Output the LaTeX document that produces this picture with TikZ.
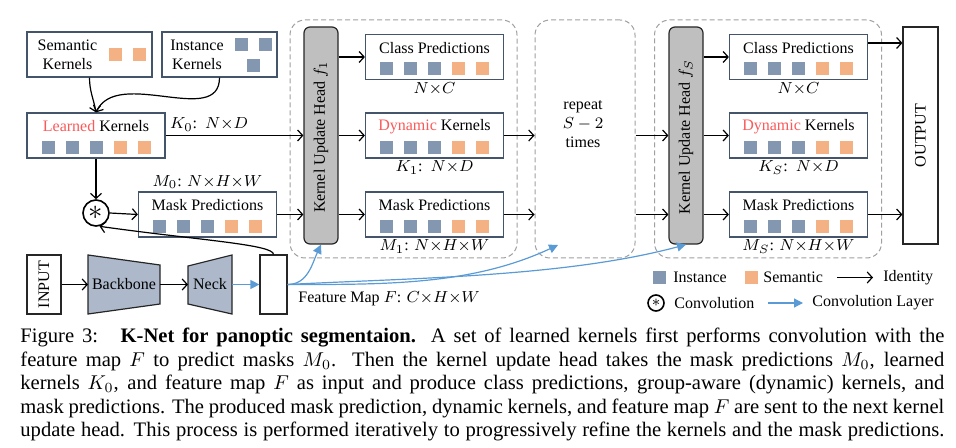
\documentclass[tikz,border=0pt]{standalone}
\usepackage{fontspec}
\setmainfont{Liberation Serif}
\usepackage{tikz}
\usetikzlibrary{calc,arrows.meta}
\definecolor{knInst}{RGB}{132,151,176}
\definecolor{knSem}{RGB}{244,177,131}
\definecolor{knBox}{RGB}{68,84,106}
\definecolor{knRed}{RGB}{250,90,90}
\definecolor{knNeck}{RGB}{173,185,202}
\definecolor{knBlue}{RGB}{91,155,213}
\definecolor{knHead}{RGB}{191,191,191}
\definecolor{knDash}{RGB}{160,160,160}

% five kernel squares at the bottom of a box
\newcommand{\kersq}[1]{%
  \foreach \i/\c in {-2/knInst,-1/knInst,0/knInst,1/knSem,2/knSem}
    \fill[\c] ($(#1.south)+(\i*24-6.5,-5)$) rectangle +(13,-13);}
% one justified caption line
\newcommand{\capline}[1]{\makebox[462pt][s]{\spaceskip=0.25em plus 0.5em minus 0.15em #1}}

\begin{document}
\begin{tikzpicture}[x=0.5pt,y=-0.5pt, font=\footnotesize,
  kbox/.style={draw=knBox, line width=0.6pt, fill=white, minimum width=69pt, minimum height=22.5pt, inner sep=0pt},
  ktxt/.style={inner sep=0pt},
  dimlbl/.style={inner sep=1pt},
  head/.style={draw=black!85, fill=knHead, rounded corners=3pt, line width=0.6pt, minimum width=17pt, minimum height=108.5pt, inner sep=0pt},
  group/.style={draw=knDash, dash pattern=on 2.5pt off 1.5pt, rounded corners=7.5pt, line width=0.5pt, minimum height=119pt, inner sep=0pt},
  wbox/.style={draw=black!85, fill=white, line width=0.6pt, inner sep=0pt},
  trap/.style={draw=black!85, fill=knNeck, line width=0.6pt},
  arr/.style={-{Straight Barb[length=2.5pt,width=5.5pt]}, line width=0.6pt},
  carr/.style={-{Triangle[length=4.5pt,width=4.5pt]}, knBlue, line width=0.6pt},
]
\useasboundingbox (0,0) rectangle (956,448);

% Kernels
\node[kbox, minimum width=62.5pt] (sk) at (89.5,54.5) {};
\node[ktxt, align=center] (skt) at (67.5,55) {Semantic\\Kernels};
\foreach \x in {109,133} \fill[knSem] (\x,48) rectangle +(13,13);
\node[kbox, minimum width=57.5pt] (ik) at (219.5,54.5) {};
\node[ktxt, align=center] (ikt) at (197,55) {Instance\\Kernels};
\foreach \x/\y in {235/38,259/38,247/59} \fill[knInst] (\x,\y) rectangle +(13,13);
\node[kbox] (lk) at (96,135.5) {};
\node[ktxt] (lkt) at ($(lk.north)+(0,14)$) {\textcolor{knRed}{Learned} Kernels};
\kersq{lk}
\node[dimlbl, anchor=south west] (k0) at ($(lk.east)+(2,-2)$) {$K_0$:\, $N{\times}D$};

% Convolution and initial masks
\node[circle, draw, line width=0.8pt, fill=white, minimum size=13pt, inner sep=0pt] (conv) at (96,213) {\Large$\ast$};
\node[kbox] (mp0) at (207.5,214.5) {};
\node[ktxt] (mp0t) at ($(mp0.north)+(0,14)$) {Mask Predictions};
\kersq{mp0}
\node[dimlbl, above] (m0) at (mp0.north) {$M_0$: $N{\times}H{\times}W$};

% Backbone
\node[wbox, minimum width=17pt, minimum height=29.5pt] (inp) at (44,284.5) {};
\node[rotate=90, inner sep=0pt] (inpt) at (inp) {INPUT};
\draw[trap] (88,255) -- (160,265) -- (160,304) -- (88,314) -- cycle;
\node[inner sep=0pt] (bb) at (124,284.5) {Backbone};
\draw[trap] (188,266) -- (232,255) -- (232,314) -- (188,304) -- cycle;
\node[inner sep=0pt] (nk) at (210,284.5) {Neck};
\coordinate (bbW) at (88,284.5);
\coordinate (bbE) at (160,284.5);
\coordinate (nkW) at (188,284.5);
\coordinate (nkE) at (232,284.5);
\node[wbox, minimum width=13.5pt, minimum height=29.5pt] (fm) at (273.5,284.5) {};
\node[anchor=west, inner sep=0pt] (fmt) at (298,299) {Feature Map $F$: $C{\times}H{\times}W$};

% Kernel update stages
\foreach \s/\hx/\bx in {1/321/434.5,S/686/798.5}{
  \node[group, minimum width=113.5pt] (st\s) at ({(\hx+\bx)/2+25.75},139) {};
  \node[head] (kh\s) at (\hx,135.5) {};
  \node[rotate=90, inner sep=0pt] (kht\s) at (\hx,137) {Kernel Update Head $f_{\s}$};
  \node[kbox] (cp\s) at (\bx,57) {};
  \node[kbox] (dk\s) at (\bx,135.5) {};
  \node[kbox] (mp\s) at (\bx,214.5) {};
  \node[ktxt] (cpt\s) at ($(cp\s.north)+(0,14)$) {Class Predictions};
  \node[ktxt] (dkt\s) at ($(dk\s.north)+(0,14)$) {\textcolor{knRed}{Dynamic} Kernels};
  \node[ktxt] (mpt\s) at ($(mp\s.north)+(0,14)$) {Mask Predictions};
  \kersq{cp\s}\kersq{dk\s}\kersq{mp\s}
  \node[dimlbl, below] (nc\s) at (cp\s.south) {$N{\times}C$};
  \node[dimlbl, below] (kd\s) at (dk\s.south) {$K_{\s}$:\, $N{\times}D$};
  \node[dimlbl, below] (mhw\s) at (mp\s.south) {$M_{\s}$: $N{\times}H{\times}W$};
  \foreach \b in {cp,dk,mp}
    \draw[arr] (kh\s.east |- \b\s.west) -- (\b\s.west);
}

% Repeat
\node[group, minimum width=50pt] (rep) at (585,139) {};
\node[align=center, inner sep=0pt] (rept) at (583,124) {repeat\\$S-2$\\times};
\coordinate (repF) at (558,245);

% Output
\node[wbox, minimum width=17.5pt, minimum height=108.5pt] (out) at (920.5,135.5) {};
\node[rotate=90, inner sep=0pt] (outt) at (out) {OUTPUT};

% Connections
\draw[arr] (sk.south) to[out=-90,in=100] (lk.north);
\draw[arr] (ik.south) to[out=-90,in=65] (lk.north);
\draw[arr] (lk.south) -- (conv.north);
\draw[arr] (conv.east) -- (mp0.west);
\draw[arr] (fm.north) to[out=90,in=-8,out distance=5pt,in distance=50pt] (conv.-75);
\draw[arr] (lk.east) -- (lk.east -| kh1.west);
\draw[arr] (mp0.east) -- (mp0.east -| kh1.west);
\draw[arr] (dk1.east) -- (dk1.east -| rep.west);
\draw[arr] (mp1.east) -- (mp1.east -| rep.west);
\draw[arr] (rep.east |- dkS.west) -- (dkS.west -| khS.west);
\draw[arr] (rep.east |- mpS.west) -- (mpS.west -| khS.west);
\draw[arr] ([yshift=7pt]cpS.east) -- ([yshift=7pt]cpS.east -| out.west);
\draw[arr] (mpS.east) -- (mpS.east -| out.west);
\draw[arr] (inp.east) -- (bbW);
\draw[arr] (bbE) -- (nkW);
\draw[carr] (nkE) -- (fm.west);
\draw[carr] (fm.east) to[out=0,in=-115] (kh1.south);
\draw[carr] (fm.east) to[out=0,in=205,looseness=0.9] (repF);
\draw[carr] (fm.east) to[out=3,in=195,looseness=0.8] (khS.south);

% Legend
\node[fill=knInst, minimum size=6.5pt, inner sep=0pt] (lgi) at (659.5,277.5) {};
\node[anchor=west, inner sep=0pt] (lgit) at (673,277.5) {Instance};
\node[fill=knSem, minimum size=6.5pt, inner sep=0pt] (lgs) at (751.5,277.5) {};
\node[anchor=west, inner sep=0pt] (lgst) at (763,277.5) {Semantic};
\node[anchor=west, inner sep=0pt] (lgid) at (883,277.5) {Identity};
\coordinate (lgidA) at (837,277.5);
\draw[arr] (lgidA) -- ([xshift=-5pt]lgid.west);
\node[circle, draw, line width=0.8pt, minimum size=8pt, inner sep=0pt] (lgc) at (656,303) {$\ast$};
\node[anchor=west, inner sep=0pt] (lgct) at (674,303) {Convolution};
\node[anchor=west, inner sep=0pt] (lgcl) at (812,303) {Convolution Layer};
\coordinate (lgclA) at (768,303);
\draw[carr] (lgclA) -- ([xshift=-4.5pt]lgcl.west);

% Caption
\node[anchor=north west, inner sep=0pt, align=left, font=\fontsize{10.3}{11.7}\selectfont] (cap) at (20,328) {%
\capline{Figure 3:\hspace{0.5em} \textbf{K-Net for panoptic segmentaion.} A set of learned kernels first performs convolution with the}\\
\capline{feature map $F$ to predict masks $M_0$. Then the kernel update head takes the mask predictions $M_0$, learned}\\
\capline{kernels $K_0$, and feature map $F$ as input and produce class predictions, group-aware (dynamic) kernels, and}\\
\capline{mask predictions. The produced mask prediction, dynamic kernels, and feature map $F$ are sent to the next kernel}\\
\capline{update head. This process is performed iteratively to progressively refine the kernels and the mask predictions.}};
\end{tikzpicture}
\end{document}
